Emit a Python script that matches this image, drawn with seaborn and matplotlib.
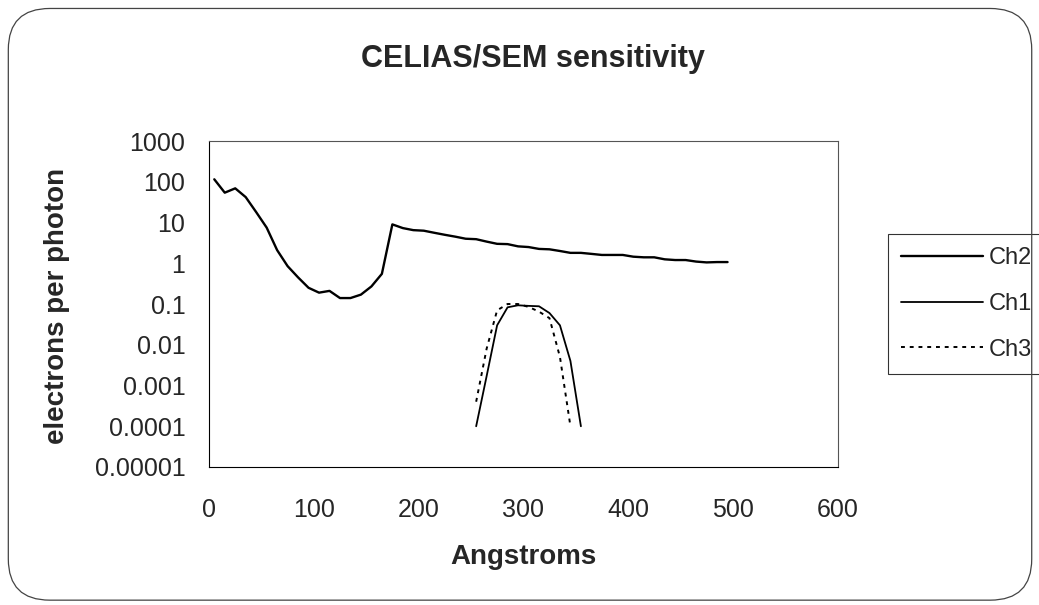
import numpy as np
import pandas as pd
import matplotlib
matplotlib.use('Agg')
import matplotlib.pyplot as plt
from matplotlib.patches import FancyBboxPatch
import seaborn as sns

# Donnees
ch2_angstrom = list(range(5, 500, 10))
ch2_values = [115, 54, 69, 42, 18, 7.5, 2.1, 0.85, 0.45, 0.25,
              0.19, 0.21, 0.14, 0.14, 0.17, 0.27, 0.55, 9.0, 7.3, 6.5,
              6.3, 5.6, 5.0, 4.5, 4.0, 3.9, 3.4, 3.0, 2.95, 2.6,
              2.5, 2.25, 2.2, 2.0, 1.8, 1.8, 1.7, 1.6, 1.6, 1.6,
              1.45, 1.4, 1.4, 1.25, 1.2, 1.2, 1.1, 1.05, 1.07, 1.07]

ch1_angstrom = list(range(255, 360, 10))
ch1_values = [0.0001, 0.0017, 0.03, 0.083, 0.093, 0.09, 0.088, 0.06, 0.03, 0.004, 0.0001]

ch3_angstrom = list(range(255, 350, 10))
ch3_values = [0.0004, 0.008, 0.07, 0.1, 0.1, 0.085, 0.065, 0.045, 0.005, 0.0001]

y_ticks = [1e-5, 1e-4, 1e-3, 1e-2, 1e-1, 1, 10, 100, 1000]
y_tick_labels = ['0.00001', '0.0001', '0.001', '0.01', '0.1', '1', '10', '100', '1000']
x_ticks = [0, 100, 200, 300, 400, 500, 600]

sns.set_style('white')
plt.rcParams['font.family'] = ['Liberation Sans', 'DejaVu Sans']

fig = plt.figure(figsize=(10.39, 6.05), dpi=100)
ax = fig.add_axes([0.2012, 0.2281, 0.6049, 0.5388])

sns.lineplot(x=ch2_angstrom, y=ch2_values, ax=ax, color='black', linewidth=1.7, label='Ch2')
sns.lineplot(x=ch1_angstrom, y=ch1_values, ax=ax, color='black', linewidth=1.3, label='Ch1')
sns.lineplot(x=ch3_angstrom, y=ch3_values, ax=ax, color='black', linewidth=1.4,
             linestyle=(0, (2, 2.5)), label='Ch3')

ax.set_yscale('log')
ax.set_xlim(0, 600)
ax.set_ylim(1e-5, 1000)
ax.set_yticks(y_ticks)
ax.set_yticklabels(y_tick_labels)
ax.minorticks_off()
ax.set_xticks(x_ticks)
ax.tick_params(axis='both', direction='out', length=5, width=0.8, color='black',
               labelsize=18)
ax.tick_params(axis='y', pad=12)
ax.tick_params(axis='x', pad=17)
for s in ax.spines.values():
    s.set_color('#555555')
    s.set_linewidth(0.8)
ax.spines['left'].set_color('black')
ax.spines['bottom'].set_color('black')

fig.text(0.513, 0.903, 'CELIAS/SEM sensitivity', ha='center', va='center',
         fontsize=22, fontweight='bold')
fig.text(0.055, 0.494, 'electrons per photon', ha='center', va='center', rotation=90,
         fontsize=20, fontweight='bold')
fig.text(0.504, 0.079, 'Angstroms', ha='center', va='center',
         fontsize=20, fontweight='bold')

leg = ax.legend(loc='upper left', bbox_to_anchor=(0.8547, 0.613), bbox_transform=fig.transFigure,
                frameon=True, fancybox=False, shadow=False, fontsize=17,
                handlelength=3.45, handletextpad=0.25, labelspacing=1.0,
                borderpad=0.56, borderaxespad=0)
leg.get_frame().set_edgecolor('black')
leg.get_frame().set_linewidth(0.8)

# cadre arrondi autour de la figure
border = FancyBboxPatch((0.008, 0.008), 0.985, 0.978, boxstyle='round,pad=0,rounding_size=0.04',
                        transform=fig.transFigure, fill=False, edgecolor='#444444',
                        linewidth=0.9, mutation_aspect=1.7)
fig.patches.append(border)

fig.savefig('out.png', dpi=100)
